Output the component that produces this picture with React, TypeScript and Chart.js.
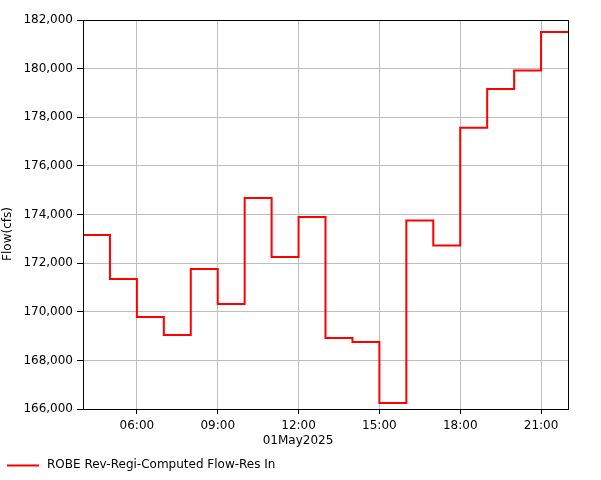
import React, { useEffect, useRef } from "react";
import { Chart, registerables } from "chart.js";

Chart.register(...registerables);

// Hour of day (period start) for each hourly value, 01May2025
const periodStartHours = [4, 5, 6, 7, 8, 9, 10, 11, 12, 13, 14, 15, 16, 17, 18, 19, 20, 21];
const periodEndHour = 22;
// Flow (cfs)
const flowValues = [
  173157, 171350, 169780, 169040, 171760, 170320, 174680, 172250, 173900,
  168920, 168760, 166250, 173750, 172720, 177570, 179160, 179920, 181510,
];
const xTickHours = [6, 9, 12, 15, 18, 21];
const yMin = 166000;
const yMax = 182000;
const yStep = 2000;
const seriesLabel = "ROBE Rev-Regi-Computed Flow-Res In";
const xTitle = "01May2025";
const yTitle = "Flow(cfs)";

const FONT = "12px 'DejaVu Sans'";

const decorPlugin = {
  id: "decor",
  afterDraw(chart: any) {
    const { ctx, chartArea } = chart;
    ctx.save();
    // frame
    ctx.strokeStyle = "#000";
    ctx.lineWidth = 1;
    ctx.strokeRect(
      Math.round(chartArea.left) + 0.5,
      Math.round(chartArea.top) + 0.5,
      Math.round(chartArea.right - chartArea.left),
      Math.round(chartArea.bottom - chartArea.top)
    );
    ctx.fillStyle = "#000";
    ctx.font = FONT;
    // x title
    ctx.textAlign = "center";
    ctx.textBaseline = "middle";
    ctx.fillText(xTitle, 298, 441);
    // y title
    ctx.save();
    ctx.translate(8, 234);
    ctx.rotate(-Math.PI / 2);
    ctx.fillText(yTitle, 0, 0);
    ctx.restore();
    // legend
    const ds = chart.data.datasets[0];
    ctx.strokeStyle = ds.borderColor;
    ctx.lineWidth = 2;
    ctx.beginPath();
    ctx.moveTo(7, 465.5);
    ctx.lineTo(39, 465.5);
    ctx.stroke();
    ctx.textAlign = "left";
    ctx.fillText(ds.label, 47, 465);
    ctx.restore();
  },
};

export default function App() {
  const ref = useRef<HTMLCanvasElement | null>(null);
  useEffect(() => {
    document.body.style.margin = "0";
    const points = periodStartHours.map((h, i) => ({ x: h, y: flowValues[i] }));
    points.push({ x: periodEndHour, y: flowValues[flowValues.length - 1] });
    const chart = new Chart(ref.current as HTMLCanvasElement, {
      type: "line",
      data: {
        datasets: [
          {
            label: seriesLabel,
            data: points,
            borderColor: "#ff0000",
            backgroundColor: "#ff0000",
            borderWidth: 2,
            pointRadius: 0,
            stepped: "before",
            fill: false,
          },
        ],
      },
      plugins: [decorPlugin],
      options: {
        animation: false,
        responsive: false,
        layout: { padding: { left: 25, top: 20, right: 33, bottom: 51 } },
        plugins: { legend: { display: false }, tooltip: { enabled: false } },
        scales: {
          x: {
            type: "linear",
            min: periodStartHours[0],
            max: periodEndHour,
            afterBuildTicks: (s: any) => {
              s.ticks = xTickHours.map((v) => ({ value: v }));
            },
            afterFit: (s: any) => {
              s.height = 20;
            },
            grid: { color: "#bebebe", tickColor: "#000", tickLength: 5, lineWidth: 1 },
            border: { color: "#000", width: 1 },
            ticks: {
              color: "#000",
              font: { family: "'DejaVu Sans'", size: 12 },
              padding: 5,
              maxRotation: 0,
              callback: (v: any) => String(v).padStart(2, "0") + ":00",
            },
          },
          y: {
            min: yMin,
            max: yMax,
            afterFit: (s: any) => {
              s.width = 58;
            },
            grid: { color: "#bebebe", tickColor: "#000", tickLength: 6, lineWidth: 1 },
            border: { color: "#000", width: 1 },
            ticks: {
              stepSize: yStep,
              color: "#000",
              font: { family: "'DejaVu Sans'", size: 12 },
              padding: 4,
              callback: (v: any) => Number(v).toLocaleString("en-US"),
            },
          },
        },
      },
    } as any);
    return () => chart.destroy();
  }, []);
  return (
    <div style={{ position: "absolute", left: 0, top: 0, width: 601, height: 480, background: "#fff" }}>
      <canvas ref={ref} width={601} height={480} />
    </div>
  );
}
